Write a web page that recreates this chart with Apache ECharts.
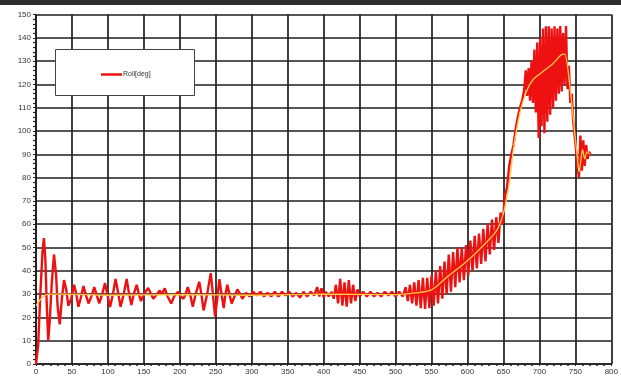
<!DOCTYPE html>
<html>
<head>
<meta charset="utf-8">
<script src="https://cdn.jsdelivr.net/npm/echarts@6/dist/echarts.min.js"></script>
<style>html,body{margin:0;padding:0;background:#fff}#c{width:621px;height:381px}</style>
</head>
<body>
<div id="c"></div>
<script>
// Roll signal (raw)
const rollX = [0,3,6,9,11,13,15,17,19,22,25,28,30,33,36,39,42,45,49,53,56,59,62,66,69,73,77,81,84,88,92,96,99,103,107,110.6,114,117.5,122,126,129,132.6,136,140,143,146,150,156,160,163,167,172,175,179,183,188,192,197.5,201,205,208,211,215,218,222,227,230,233,238,243,246,249,252,255,258,261,263,266,269,272,276,280,284,287,292,297,302,307,312,317,322,327,332,337,342,347,352,357,362,367,372,377,382,387,391,394,397,400,403,407,411,414,417,420,423,426,429,432,435,438,441,444,447,450,455,460,465,470,475,480,485,490,495,500,505,510,514,517,520,523,526,529,532,535,538,541,544,547,550,553,556,559,562,565,568,571,574,577,580,583,586,589,592,595,598,601,604,607,610,613,616,619,622,625,628,631,634,637,640,643,646,649,652,655,658,661,664,667,670,673,676,679,681,683,685,687,689,691,693,695,697,699,701,703,705,707,709,711,713,715,717,719,721,723,725,727,729,731,733,735,737,739,741,743,745,747,750,753,755,757,759,761,763,765,767,769,771];
const rollY = [0,8,30,48,54,45,25,10,18,35,47,38,25,17,28,36,32,25,28,34,30,24.6,28,33.5,30,26,29,33,30,26,30,34.7,30,24.5,30,36.5,31,24.5,30,36.5,31,25.3,30,34,30,27,30,32.6,30,28,29.5,31.5,30,32.5,29,26,29,31,29,28,30,33,29,24.6,30,35.3,30,23,30,39,30,20.3,28,36.4,30,24,29,34,30,26,29,32,30,28,30.5,29,31,29.5,31,29,30.5,29,31,29,31,29.5,31,29,30.5,28.5,31,29,31,29.5,33,29,32.5,28.5,31,29,31,28,34,26,36.5,25,35,24.6,36,26,34,27,32,29,31,29,31,29,30.5,29,31,29.5,31,29,31,29,33,27,34,26,35,25,36,24,37,23.6,37,24,38,25,40,26,42,28,44,30,47,31,48,33,50,35,50,36,51,38,53,40,55,41,56,43,58,44,60,47,62,49,63,52,65,60,72,76,85,90,94,101,106,110,113,118,126,115,127,113,130,112,135,108,138,97,140,102,144,99,145,104,145,107,144,110,145,113,144,116,145,117,142,120,145,118,128,112,116,104,95,85,80,98,83,96,85,94,88,91,90];
// Smoothed roll
const smoothX = [0,10,20,40,100,200,300,400,500,527,550,572,595,618,641,650,655,659,664,673,682,691,705,719,730,735,741.7,748.5,753,755,757,760,763,766,770];
const smoothY = [25,29,30,30,29.5,29.8,29.5,30,29.8,30.5,31.8,37.5,43,49.6,57.5,64.7,72,79,92.6,108,117,122,125.5,129,132.6,133,121,101,88,82.5,86,92,88,91,90];
const legendName = 'Roll[deg]';

const rawData = rollX.map((x, i) => [x, rollY[i]]);
const smoothData = smoothX.map((x, i) => [x, smoothY[i]]);

const chart = echarts.init(document.getElementById('c'), null, {renderer: 'canvas'});
const gridLine = {show: true, lineStyle: {color: '#1e1e1e', width: 1.7}};
const labelStyle = {color: '#333', fontSize: 8, fontFamily: 'Liberation Sans, Arial, sans-serif'};
chart.setOption({
  animation: false,
  backgroundColor: '#fff',
  grid: {left: 36, right: 2, top: 14.5, bottom: 17},
  graphic: [
    {type: 'rect', z: 0, shape: {x: 0, y: 0, width: 621, height: 5}, style: {fill: '#2e2e2e'}},
    {type: 'rect', z: 5, shape: {x: 55.5, y: 49.5, width: 139, height: 46}, style: {fill: '#fff', stroke: '#444', lineWidth: 1}}
  ],
  legend: {
    data: [legendName], left: 96, top: 66, z: 6,
    icon: 'rect', itemWidth: 21, itemHeight: 2.5, itemGap: 0,
    textStyle: {color: '#333', fontSize: 7, fontFamily: 'Liberation Sans, Arial, sans-serif', padding: [0, 0, 0, -4]}
  },
  xAxis: {
    type: 'value', min: 0, max: 800, interval: 50,
    axisLine: {show: true, lineStyle: {color: '#1e1e1e', width: 1.7}},
    axisTick: {show: true, length: 2, lineStyle: {color: '#222'}},
    minorTick: {show: true, splitNumber: 5, length: 2, lineStyle: {color: '#222', width: 1.5}},
    axisLabel: Object.assign({margin: 4}, labelStyle),
    splitLine: gridLine
  },
  yAxis: {
    type: 'value', min: 0, max: 150, interval: 10,
    axisLine: {show: true, lineStyle: {color: '#1e1e1e', width: 1.7}},
    axisTick: {show: true, length: 3, lineStyle: {color: '#222'}},
    minorTick: {show: true, splitNumber: 5, length: 3, lineStyle: {color: '#222', width: 1.2}},
    axisLabel: Object.assign({margin: 5}, labelStyle),
    splitLine: gridLine
  },
  series: [
    {name: legendName, type: 'line', data: rawData, showSymbol: false, symbol: 'none', z: 3,
     color: '#ee1111', lineStyle: {color: '#ee1111', width: 2.4}},
    {name: 'Filtered', type: 'line', data: smoothData, showSymbol: false, symbol: 'none', z: 4, smooth: 0.3,
     color: '#ffcc44', lineStyle: {color: '#ffcc44', width: 1.3}}
  ]
});
</script>
</body>
</html>
